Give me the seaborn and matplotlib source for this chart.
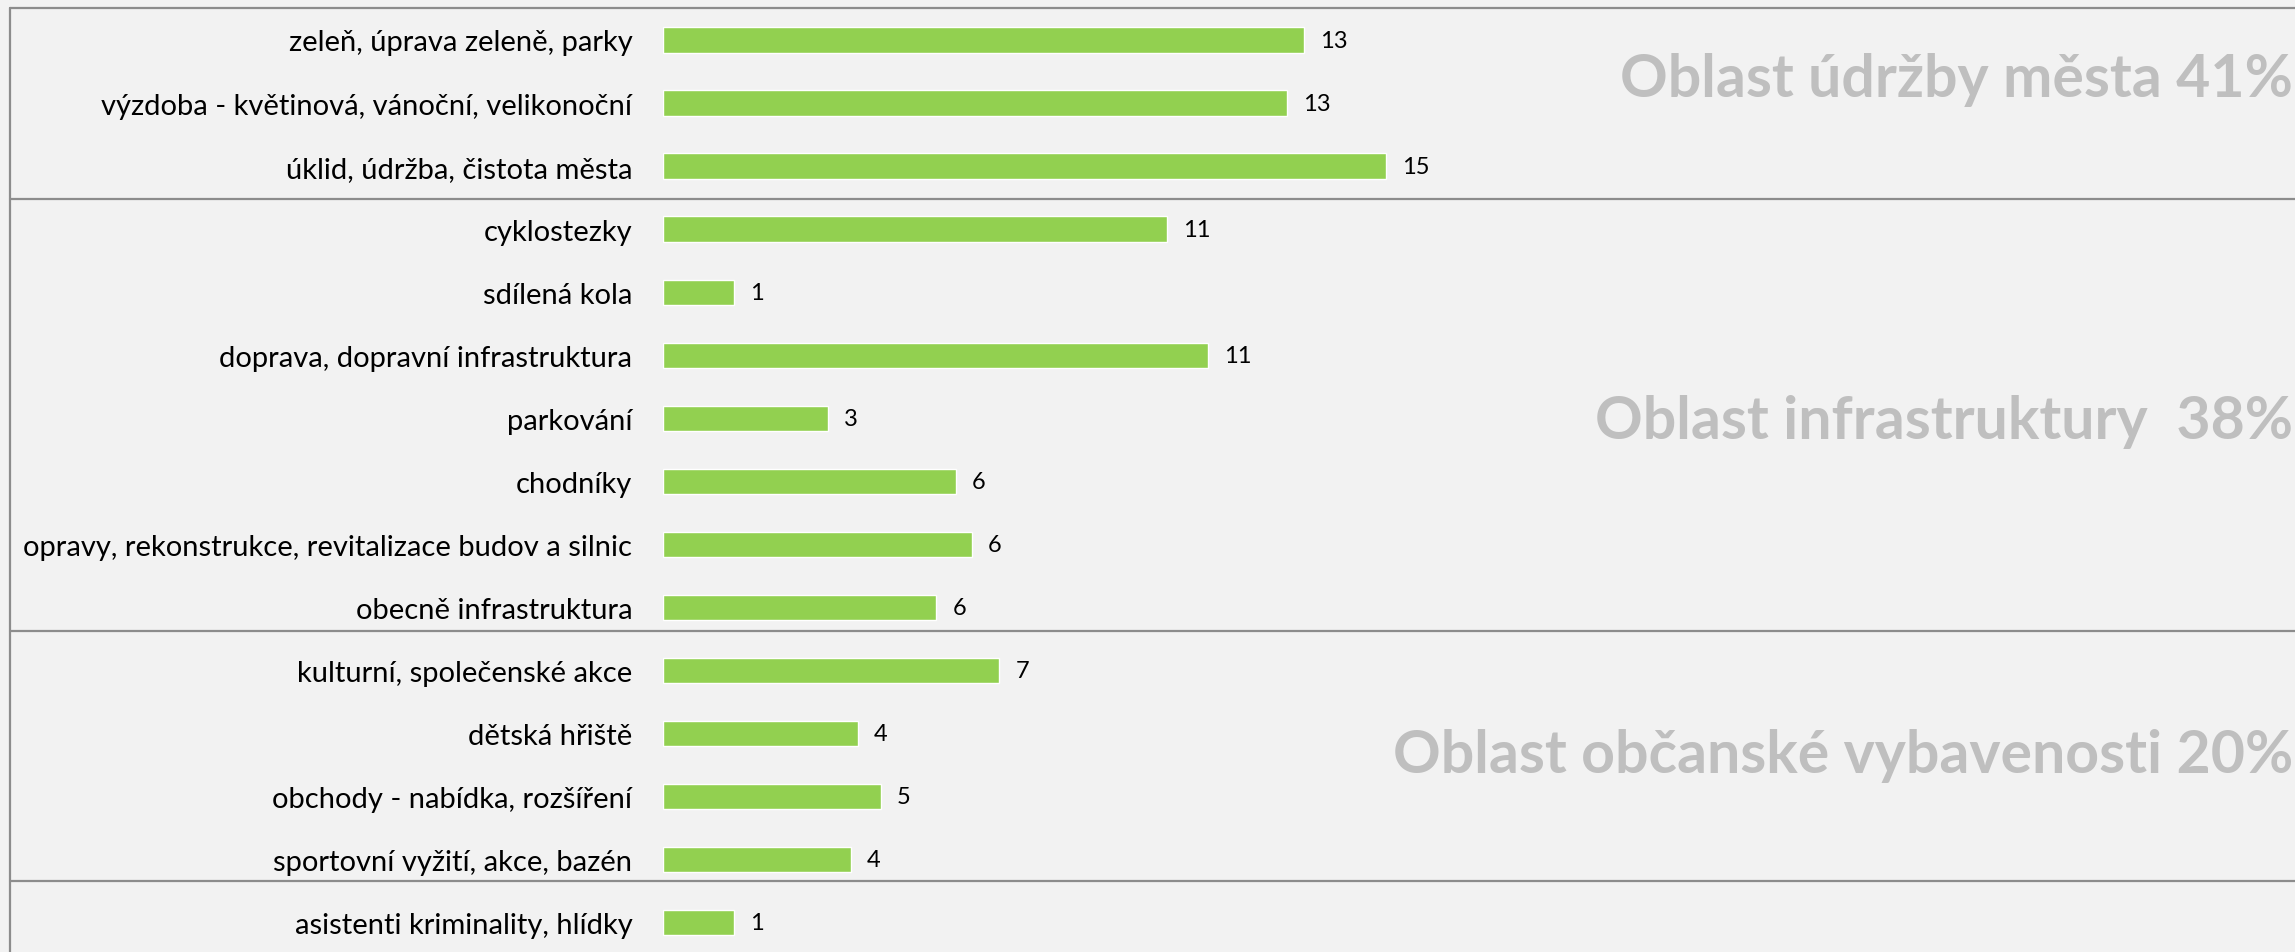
import matplotlib
matplotlib.use("Agg")
import matplotlib.pyplot as plt
import matplotlib.transforms as mtransforms
import seaborn as sns

# data
categories = [
    "zeleň, úprava zeleně, parky",
    "výzdoba - květinová, vánoční, velikonoční",
    "úklid, údržba, čistota města",
    "cyklostezky",
    "sdílená kola",
    "doprava, dopravní infrastruktura",
    "parkování",
    "chodníky",
    "opravy, rekonstrukce, revitalizace budov a silnic",
    "obecně infrastruktura",
    "kulturní, společenské akce",
    "dětská hřiště",
    "obchody - nabídka, rozšíření",
    "sportovní vyžití, akce, bazén",
    "asistenti kriminality, hlídky",
]
# bar lengths as drawn (they do not match the printed labels exactly)
bar_lengths = [13.3, 12.95, 15.0, 10.45, 1.47, 11.3, 3.43, 6.07, 6.41, 5.67,
               6.98, 4.04, 4.52, 3.9, 1.47]
counts = [13, 13, 15, 11, 1, 11, 3, 6, 6, 6, 7, 4, 5, 4, 1]

group_names = ["Oblast údržby města 41%", "Oblast infrastruktury  38%",
               "Oblast občanské vybavenosti 20%"]

# layout (pixels of a 2295x953 picture)
W, H = 2295, 953
bar_x0 = 663
px_per_unit = 48.2
row0_px, row_px = 41, 63.03
group_label_y = [0.888, 6.315, 11.61]      # baselines, in rows
separators = [-0.5, 2.515, 9.377, 13.335]  # frame lines, in rows

bg = "#F2F2F2"
sns.set_style("white")
plt.rcParams["font.family"] = ["Lato", "DejaVu Sans"]

fig = plt.figure(figsize=(W / 100, H / 100), dpi=100)
fig.patch.set_facecolor(bg)
ax = fig.add_axes([bar_x0 / W, 0, 1 - bar_x0 / W, 1])
ax.set_facecolor(bg)

sns.barplot(x=bar_lengths, y=categories, orient="h", color="#92D050",
            saturation=1, width=0.4, ax=ax)

ax.set_xlim(0, (W - bar_x0) / px_per_unit)
ax.set_ylim((H - row0_px) / row_px, -row0_px / row_px)
ax.bar_label(ax.containers[0], labels=[str(c) for c in counts],
             padding=11.5, fontsize=17, color="black")

ax.set_xticks([])
ax.tick_params(axis="y", length=0, pad=22, labelsize=21, labelcolor="black")
ax.set_xlabel("")
ax.set_ylabel("")
for s in ax.spines.values():
    s.set_visible(False)

# frame lines
trans = mtransforms.blended_transform_factory(fig.transFigure, ax.transData)
for y in separators:
    ax.plot([9.5 / W, 1], [y, y], transform=trans, color="#8C8C8C",
            lw=1.6, clip_on=False)
ax.plot([9.5 / W, 9.5 / W], [separators[0], 20], transform=trans,
        color="#8C8C8C", lw=1.6, clip_on=False)

# group titles
for name, y in zip(group_names, group_label_y):
    ax.text(2293 / W, y, name, transform=trans, ha="right", va="baseline",
            fontsize=42.5, fontweight="bold", color="#BFBFBF")

fig.savefig("out.png", dpi=100, facecolor=bg)
